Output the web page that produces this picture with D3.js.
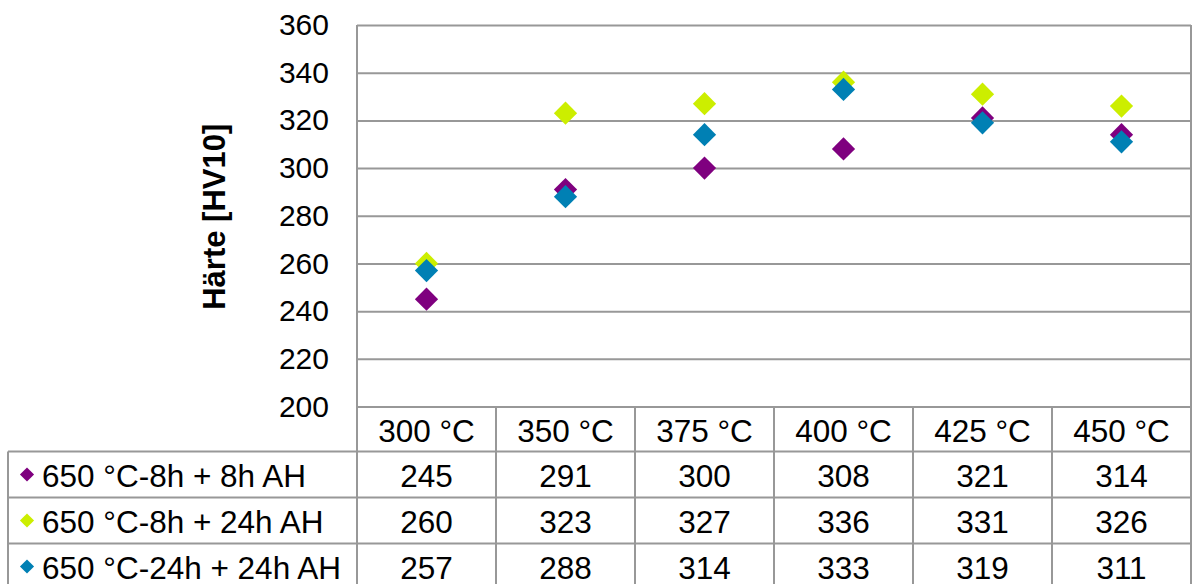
<!DOCTYPE html>
<html>
<head>
<meta charset="utf-8">
<script src="https://cdn.jsdelivr.net/npm/d3@7"></script>
<style>
  html, body { margin: 0; padding: 0; background: #ffffff; }
  svg { display: block; font-family: "Liberation Sans", Arial, sans-serif; }
</style>
</head>
<body>
<svg id="chart" width="1192" height="584"></svg>
<script>
// Temperatures (Auslagerungstemperatur) shown as categories
const categories = ["300 °C", "350 °C", "375 °C", "400 °C", "425 °C", "450 °C"];

// Hardness values per heat treatment
const seriesNames = ["650 °C-8h + 8h AH", "650 °C-8h + 24h AH", "650 °C-24h + 24h AH"];
const hv8h8h   = [245, 291, 300, 308, 321, 314];
const hv8h24h  = [260, 323, 327, 336, 331, 326];
const hv24h24h = [257, 288, 314, 333, 319, 311];
const seriesColors = ["#7f007f", "#ccee00", "#0080b4"];

const yTicks = [200, 220, 240, 260, 280, 300, 320, 340, 360];
const yTitle = "Härte [HV10]";

const series = [hv8h8h, hv8h24h, hv24h24h].map((values, i) => ({
  name: seriesNames[i], color: seriesColors[i], values
}));

const svg = d3.select("#chart");
const plot = { left: 357, right: 1191, top: 25, bottom: 406.5 };
const tableLeft = 8;
const rowH = 46;
const gridColor = "#989898";
const tickFont = 30;
const tableFont = 31.5;

const x = d3.scaleBand().domain(categories).range([plot.left, plot.right]);
const y = d3.scaleLinear().domain([200, 360]).range([plot.bottom, plot.top]);

// Horizontal gridlines and value labels
const yAxis = d3.axisLeft(y)
  .tickValues(yTicks)
  .tickSize(-(plot.right - plot.left))
  .tickPadding(28)
  .tickFormat(d3.format("d"));

const gy = svg.append("g")
  .attr("transform", `translate(${plot.left},0)`)
  .call(yAxis);
gy.select(".domain").remove();
gy.selectAll(".tick line").attr("stroke", gridColor).attr("stroke-width", 2);
gy.selectAll(".tick text")
  .attr("fill", "#000")
  .style("font-size", tickFont + "px")
  .style("font-family", "'Liberation Sans', Arial, sans-serif");

// Plot frame (left and right)
svg.append("line")
  .attr("x1", plot.left).attr("x2", plot.left)
  .attr("y1", plot.top).attr("y2", plot.bottom + rowH * 4 + 10)
  .attr("stroke", gridColor).attr("stroke-width", 2);
svg.append("line")
  .attr("x1", plot.right).attr("x2", plot.right)
  .attr("y1", plot.top).attr("y2", plot.bottom + rowH * 4 + 10)
  .attr("stroke", gridColor).attr("stroke-width", 2);

// Axis title
svg.append("text")
  .attr("transform", `translate(225,${(plot.top + plot.bottom) / 2 + 1}) rotate(-90)`)
  .attr("text-anchor", "middle")
  .style("font-size", "31px")
  .style("font-weight", "bold")
  .text(yTitle);

// Data table below the plot
const table = svg.append("g");
const headerTop = plot.bottom;
const rowsTop = headerTop + rowH - 1;

// Column separators
table.selectAll("line.col")
  .data(categories.slice(1))
  .join("line")
  .attr("class", "col")
  .attr("x1", d => x(d)).attr("x2", d => x(d))
  .attr("y1", headerTop).attr("y2", 600)
  .attr("stroke", gridColor).attr("stroke-width", 2);

// Row separators
table.selectAll("line.row")
  .data(d3.range(series.length + 1))
  .join("line")
  .attr("class", "row")
  .attr("x1", tableLeft).attr("x2", plot.right)
  .attr("y1", i => rowsTop + i * rowH).attr("y2", i => rowsTop + i * rowH)
  .attr("stroke", gridColor).attr("stroke-width", 2);

// Legend column left border
table.append("line")
  .attr("x1", tableLeft).attr("x2", tableLeft)
  .attr("y1", rowsTop).attr("y2", 600)
  .attr("stroke", gridColor).attr("stroke-width", 2);

// Category header labels
table.selectAll("text.cat")
  .data(categories)
  .join("text")
  .attr("class", "cat")
  .attr("x", d => x(d) + x.bandwidth() / 2)
  .attr("y", headerTop + rowH / 2 + 1)
  .attr("text-anchor", "middle")
  .attr("dominant-baseline", "central")
  .style("font-size", tableFont + "px")
  .text(d => d);

// Series rows: legend key, name and values
const rows = table.selectAll("g.srow")
  .data(series)
  .join("g")
  .attr("class", "srow")
  .attr("transform", (d, i) => `translate(0,${rowsTop + i * rowH + rowH / 2})`);

const keySymbol = d3.symbol().type(d3.symbolDiamond2).size(128);
rows.append("path")
  .attr("d", keySymbol)
  .attr("transform", "translate(27,0)")
  .attr("fill", d => d.color);

rows.append("text")
  .attr("x", 42)
  .attr("y", 1)
  .attr("dominant-baseline", "central")
  .style("font-size", tableFont + "px")
  .text(d => d.name);

rows.selectAll("text.val")
  .data(d => d.values.map((v, j) => ({ v, cat: categories[j] })))
  .join("text")
  .attr("class", "val")
  .attr("x", d => x(d.cat) + x.bandwidth() / 2)
  .attr("y", 1)
  .attr("text-anchor", "middle")
  .attr("dominant-baseline", "central")
  .style("font-size", tableFont + "px")
  .text(d => d.v);

// Markers
const marker = d3.symbol().type(d3.symbolSquare).size(270);
series.forEach(s => {
  svg.append("g")
    .selectAll("path")
    .data(s.values.map((v, j) => ({ v, cat: categories[j] })))
    .join("path")
    .attr("d", marker)
    .attr("transform", d => `translate(${x(d.cat) + x.bandwidth() / 2},${y(d.v)}) rotate(45)`)
    .attr("fill", s.color);
});
</script>
</body>
</html>
